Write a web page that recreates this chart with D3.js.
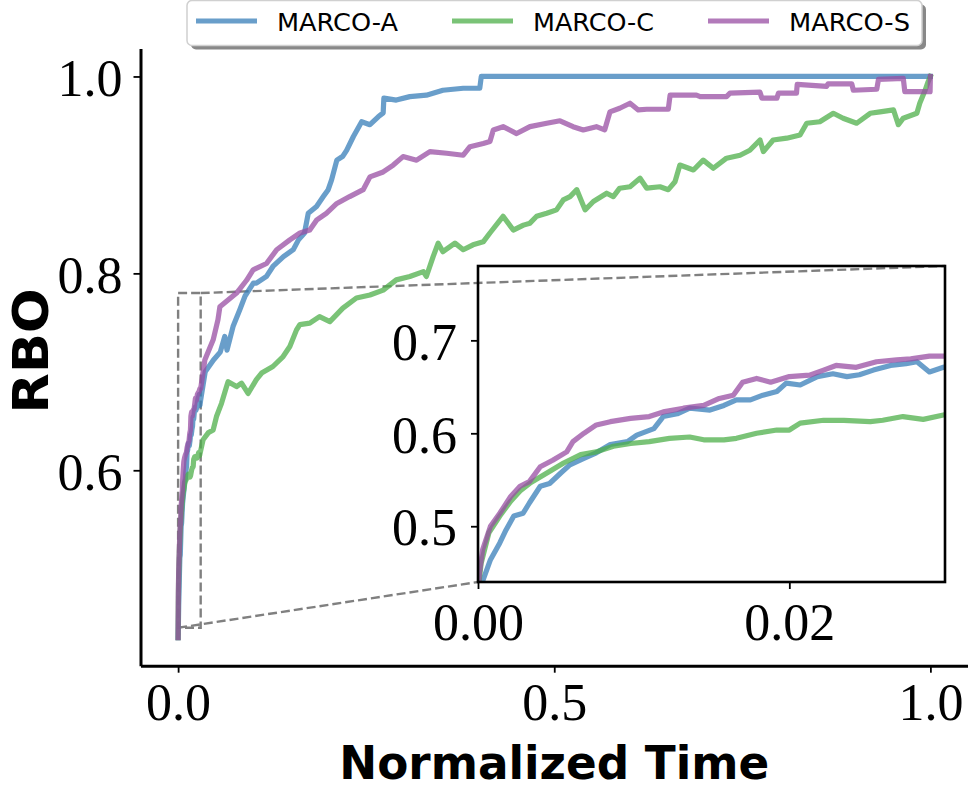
<!DOCTYPE html>
<html>
<head>
<meta charset="utf-8">
<script src="https://cdn.jsdelivr.net/npm/d3@7"></script>
<style>
body { margin: 0; background: #fff; }
svg { display: block; }
</style>
</head>
<body>
<svg class="myChart" width="968" height="789"></svg>
<script>
// series names and colours (Set1, drawn at 0.75 opacity)
const seriesNames = ["MARCO-A", "MARCO-C", "MARCO-S"];
const seriesColors = ["#377eb8", "#4daf4a", "#984ea3"];

// [normalized time, RBO] (dense part comes from the inset)
const marcoA = [
  [0, 0.43], [0.0003, 0.441], [0.0008, 0.464], [0.0014, 0.482], [0.0018, 0.496],
  [0.0023, 0.511], [0.0029, 0.514], [0.0033, 0.525], [0.0040, 0.543], [0.0046, 0.546],
  [0.0053, 0.557], [0.0059, 0.566], [0.0068, 0.573], [0.0076, 0.579], [0.0085, 0.588],
  [0.0096, 0.591], [0.0102, 0.598], [0.0113, 0.605], [0.0119, 0.618], [0.0128, 0.621],
  [0.0136, 0.627], [0.0149, 0.625], [0.0158, 0.630], [0.0166, 0.636], [0.0175, 0.636],
  [0.0183, 0.641], [0.0192, 0.645], [0.0198, 0.654], [0.0207, 0.652], [0.0218, 0.661],
  [0.0228, 0.664], [0.0237, 0.661], [0.0245, 0.663], [0.0254, 0.668], [0.0265, 0.673],
  [0.0275, 0.675], [0.0282, 0.677], [0.0290, 0.666], [0.0299, 0.671],
  [0.036, 0.700], [0.047, 0.712], [0.056, 0.720], [0.062, 0.736], [0.065, 0.722],
  [0.073, 0.746], [0.082, 0.763], [0.089, 0.777], [0.100, 0.790], [0.104, 0.790],
  [0.1175, 0.797], [0.126, 0.807], [0.140, 0.817], [0.153, 0.824], [0.160, 0.834],
  [0.168, 0.841], [0.173, 0.861], [0.184, 0.868], [0.193, 0.878], [0.1995, 0.885],
  [0.204, 0.895], [0.211, 0.915], [0.219, 0.919], [0.224, 0.925], [0.233, 0.939],
  [0.244, 0.954], [0.255, 0.951], [0.266, 0.959], [0.2726, 0.963], [0.2735, 0.978],
  [0.290, 0.976], [0.308, 0.9795], [0.330, 0.981], [0.352, 0.986], [0.379, 0.988],
  [0.401, 0.988], [0.403, 1.0], [1.0, 1.0]
];

const marcoC = [
  [0, 0.43], [0.0002, 0.46], [0.0007, 0.493], [0.0014, 0.511], [0.0021, 0.527],
  [0.0027, 0.538], [0.0034, 0.547], [0.0044, 0.557], [0.0055, 0.568], [0.0066, 0.577],
  [0.0076, 0.580], [0.0087, 0.586], [0.0098, 0.589], [0.0110, 0.591], [0.0123, 0.5946],
  [0.0136, 0.596], [0.0145, 0.593], [0.0158, 0.593], [0.0166, 0.5946], [0.0179, 0.600],
  [0.0192, 0.6035], [0.0200, 0.6035], [0.0207, 0.611], [0.0222, 0.614], [0.0235, 0.614],
  [0.0252, 0.6125], [0.0260, 0.614], [0.0273, 0.618], [0.0286, 0.615], [0.0299, 0.6196],
  [0.0332, 0.631], [0.040, 0.638], [0.0466, 0.641], [0.051, 0.6546], [0.0577, 0.668],
  [0.0644, 0.685], [0.0665, 0.690], [0.0777, 0.685], [0.0843, 0.6885], [0.093, 0.678],
  [0.104, 0.692], [0.111, 0.6987], [0.126, 0.7054], [0.1396, 0.7155], [0.1485, 0.7257],
  [0.1574, 0.7426], [0.1618, 0.748], [0.175, 0.7494], [0.188, 0.756], [0.2017, 0.751],
  [0.219, 0.7647], [0.237, 0.775], [0.255, 0.778], [0.2726, 0.783], [0.290, 0.7934],
  [0.308, 0.7968], [0.326, 0.8018], [0.330, 0.7968], [0.339, 0.817], [0.3457, 0.8307],
  [0.352, 0.822], [0.368, 0.8307], [0.379, 0.824], [0.392, 0.829], [0.4056, 0.832],
  [0.4145, 0.841], [0.428, 0.854], [0.432, 0.858], [0.4455, 0.844], [0.459, 0.849],
  [0.4677, 0.851], [0.4766, 0.858], [0.490, 0.861], [0.503, 0.8645], [0.512, 0.8746],
  [0.521, 0.878], [0.530, 0.885], [0.541, 0.8645], [0.552, 0.873], [0.5697, 0.8814],
  [0.5785, 0.878], [0.587, 0.8865], [0.6007, 0.888], [0.614, 0.8966], [0.623, 0.8865],
  [0.6406, 0.888], [0.6516, 0.885], [0.6605, 0.893], [0.667, 0.910], [0.685, 0.905],
  [0.698, 0.915], [0.7114, 0.9068], [0.729, 0.917], [0.747, 0.920], [0.760, 0.925],
  [0.7735, 0.9355], [0.778, 0.9237], [0.791, 0.9355], [0.809, 0.9373], [0.8267, 0.9406],
  [0.8356, 0.9525], [0.853, 0.954], [0.871, 0.9626], [0.884, 0.9576], [0.902, 0.9525],
  [0.920, 0.9626], [0.933, 0.964], [0.951, 0.966], [0.9574, 0.951], [0.964, 0.9576],
  [0.982, 0.9626], [0.986, 0.973], [0.993, 0.986], [0.997, 0.9947], [1.0, 1.0]
];

const marcoS = [
  [0, 0.43], [0.0001, 0.45], [0.0003, 0.475], [0.0008, 0.500], [0.0014, 0.514],
  [0.0021, 0.532], [0.0027, 0.543], [0.0033, 0.548], [0.0040, 0.564], [0.0048, 0.571],
  [0.0057, 0.580], [0.0061, 0.591], [0.0068, 0.600], [0.0076, 0.609], [0.0085, 0.6125],
  [0.0098, 0.616], [0.0110, 0.618], [0.0119, 0.623], [0.0132, 0.627], [0.0145, 0.630],
  [0.0155, 0.6375], [0.0164, 0.641], [0.0170, 0.655], [0.0179, 0.659], [0.0188, 0.655],
  [0.0200, 0.661], [0.0213, 0.6625], [0.0222, 0.668], [0.0230, 0.673], [0.0243, 0.671],
  [0.0256, 0.677], [0.0269, 0.679], [0.0278, 0.680], [0.0290, 0.683], [0.0300, 0.683],
  [0.0355, 0.712], [0.0466, 0.7325], [0.053, 0.753], [0.0555, 0.766], [0.064, 0.7714],
  [0.0777, 0.780], [0.091, 0.793], [0.0997, 0.8036], [0.1175, 0.810], [0.131, 0.824],
  [0.1485, 0.834], [0.162, 0.841], [0.175, 0.844], [0.184, 0.854], [0.197, 0.861],
  [0.211, 0.871], [0.228, 0.878], [0.246, 0.885], [0.255, 0.898], [0.2726, 0.903],
  [0.286, 0.910], [0.299, 0.9186], [0.317, 0.915], [0.3347, 0.9237], [0.357, 0.922],
  [0.379, 0.920], [0.388, 0.9287], [0.4056, 0.932], [0.4145, 0.934], [0.419, 0.9457],
  [0.432, 0.949], [0.450, 0.942], [0.4677, 0.949], [0.490, 0.9525], [0.5076, 0.955],
  [0.525, 0.949], [0.5386, 0.9457], [0.556, 0.949], [0.567, 0.9457], [0.574, 0.964],
  [0.587, 0.9677], [0.6007, 0.9728], [0.6117, 0.966], [0.623, 0.9667], [0.6516, 0.9667],
  [0.654, 0.981], [0.689, 0.981], [0.694, 0.9795], [0.729, 0.9795], [0.7336, 0.983],
  [0.7735, 0.984], [0.776, 0.978], [0.796, 0.978], [0.798, 0.983], [0.822, 0.983],
  [0.823, 0.992], [0.862, 0.990], [0.864, 0.9924], [0.8955, 0.9924], [0.8976, 0.986],
  [0.9287, 0.987], [0.931, 0.997], [0.964, 0.998], [0.966, 0.9846], [0.9996, 0.9846],
  [1.0, 1.0]
];

const mainXTicks = [0, 0.5, 1.0];
const mainYTicks = [0.6, 0.8, 1.0];
const insetXTicks = [0, 0.02];
const insetYTicks = [0.5, 0.6, 0.7];
const insetXDomain = [0, 0.03];
const insetYDomain = [0.44, 0.78];

const xLabel = "Normalized Time";
const yLabel = "RBO";

const seriesData = [marcoA, marcoC, marcoS];

const width = 968, height = 789;
const margin = {top: 48.4, right: 0, bottom: 123.3, left: 140.5};
const inset = {x0: 478, x1: 945, y0: 266, y1: 582};

const tickFont = "'Liberation Serif', 'DejaVu Serif', serif";
const labelFont = "'DejaVu Sans', sans-serif";

const svg = d3.select("svg.myChart");

// matplotlib-style 5% margins around the data extent
const pad = ([a, b]) => [a - 0.05 * (b - a), b + 0.05 * (b - a)];
const allPts = seriesData.flat();
const xScale = d3.scaleLinear()
  .domain(pad(d3.extent(allPts, d => d[0])))
  .range([margin.left, width - margin.right]);
const yScale = d3.scaleLinear()
  .domain(pad(d3.extent(allPts, d => d[1])))
  .range([height - margin.bottom, margin.top]);

const ixScale = d3.scaleLinear().domain(insetXDomain).range([inset.x0, inset.x1]);
const iyScale = d3.scaleLinear().domain(insetYDomain).range([inset.y1, inset.y0]);

const dashStyle = g => g
  .attr("fill", "none")
  .attr("stroke", "#808080")
  .attr("stroke-width", 2.4)
  .attr("stroke-dasharray", "9,4");

// zoom rectangle and connectors
const zx0 = xScale(insetXDomain[0]), zx1 = xScale(insetXDomain[1]);
const zy0 = yScale(insetYDomain[1]), zy1 = yScale(insetYDomain[0]);
const dashG = svg.append("g").call(dashStyle);
dashG.append("rect")
  .attr("x", zx0).attr("y", zy0)
  .attr("width", zx1 - zx0).attr("height", zy1 - zy0);
dashG.append("line")
  .attr("x1", zx1).attr("y1", zy0).attr("x2", inset.x1).attr("y2", inset.y0);
dashG.append("line")
  .attr("x1", zx0).attr("y1", zy1).attr("x2", inset.x0).attr("y2", inset.y1);

const lineStyle = sel => sel
  .attr("fill", "none")
  .attr("stroke", (d, i) => seriesColors[i])
  .attr("stroke-opacity", 0.75)
  .attr("stroke-width", 5.2)
  .attr("stroke-linejoin", "round")
  .attr("stroke-linecap", "square");

const mainLine = d3.line().x(d => xScale(d[0])).y(d => yScale(d[1]));
svg.append("g").selectAll("path").data(seriesData)
  .enter().append("path")
  .attr("d", mainLine)
  .call(lineStyle);

const styleAxis = (g, spineWidth) => {
  g.attr("font-family", tickFont).attr("font-size", 52);
  g.select(".domain").attr("stroke-width", spineWidth);
  g.selectAll(".tick line").attr("stroke-width", 1.8);
  g.selectAll(".tick text").attr("fill", "#000");
};

// main axes: only left and bottom spines
svg.append("g")
  .attr("transform", `translate(${margin.left},0)`)
  .call(d3.axisLeft(yScale).tickValues(mainYTicks).tickFormat(d3.format(".1f"))
    .tickSize(7).tickSizeOuter(0).tickPadding(11))
  .call(g => styleAxis(g, 3))
  .call(g => g.selectAll(".tick text").attr("dy", "0.36em"));

svg.append("g")
  .attr("transform", `translate(0,${height - margin.bottom})`)
  .call(d3.axisBottom(xScale).tickValues(mainXTicks).tickFormat(d3.format(".1f"))
    .tickSize(7).tickSizeOuter(0).tickPadding(10))
  .call(g => styleAxis(g, 3));

// inset
svg.append("clipPath").attr("id", "insetClip")
  .append("rect")
  .attr("x", inset.x0).attr("y", inset.y0)
  .attr("width", inset.x1 - inset.x0).attr("height", inset.y1 - inset.y0);

const insetLine = d3.line().x(d => ixScale(d[0])).y(d => iyScale(d[1]));
svg.append("g").attr("clip-path", "url(#insetClip)")
  .selectAll("path").data(seriesData)
  .enter().append("path")
  .attr("d", insetLine)
  .call(lineStyle);

svg.append("g")
  .attr("transform", `translate(${inset.x0},0)`)
  .call(d3.axisLeft(iyScale).tickValues(insetYTicks).tickFormat(d3.format(".1f"))
    .tickSize(7).tickSizeOuter(0).tickPadding(14))
  .call(g => styleAxis(g, 0))
  .call(g => g.selectAll(".tick text").attr("dy", "0.36em"));

svg.append("g")
  .attr("transform", `translate(0,${inset.y1})`)
  .call(d3.axisBottom(ixScale).tickValues(insetXTicks).tickFormat(d3.format(".2f"))
    .tickSize(7).tickSizeOuter(0).tickPadding(14))
  .call(g => styleAxis(g, 0));

svg.append("rect")
  .attr("x", inset.x0).attr("y", inset.y0)
  .attr("width", inset.x1 - inset.x0).attr("height", inset.y1 - inset.y0)
  .attr("fill", "none").attr("stroke", "#000").attr("stroke-width", 2.6);

// axis titles
svg.append("text")
  .attr("x", (margin.left + width - margin.right) / 2)
  .attr("y", 779)
  .attr("text-anchor", "middle")
  .attr("font-family", labelFont)
  .attr("font-weight", "bold")
  .attr("font-size", 46)
  .attr("textLength", 430)
  .attr("lengthAdjust", "spacingAndGlyphs")
  .text(xLabel);

svg.append("text")
  .attr("transform", `translate(48,351) rotate(-90)`)
  .attr("text-anchor", "middle")
  .attr("font-family", labelFont)
  .attr("font-weight", "bold")
  .attr("font-size", 50)
  .attr("textLength", 125)
  .attr("lengthAdjust", "spacingAndGlyphs")
  .text(yLabel);

// legend
const legend = svg.append("g");
legend.append("rect")
  .attr("x", 191).attr("y", 4.5).attr("width", 735).attr("height", 45)
  .attr("rx", 5).attr("fill", "#888");
legend.append("rect")
  .attr("x", 187).attr("y", 0.5).attr("width", 735).attr("height", 45)
  .attr("rx", 5).attr("fill", "#fff").attr("stroke", "#d0d0d0").attr("stroke-width", 1.5);

const items = legend.selectAll(".item").data(seriesNames)
  .enter().append("g")
  .attr("class", "item")
  .attr("transform", (d, i) => `translate(${196 + i * 256},0)`);
items.append("line")
  .attr("x1", 0).attr("x2", 61).attr("y1", 21).attr("y2", 21)
  .attr("stroke", (d, i) => seriesColors[i])
  .attr("stroke-opacity", 0.75)
  .attr("stroke-width", 5.2);
items.append("text")
  .attr("x", 81).attr("y", 31)
  .attr("font-family", labelFont)
  .attr("font-size", 24)
  .attr("textLength", 121)
  .attr("lengthAdjust", "spacingAndGlyphs")
  .text(d => d);
</script>
</body>
</html>
